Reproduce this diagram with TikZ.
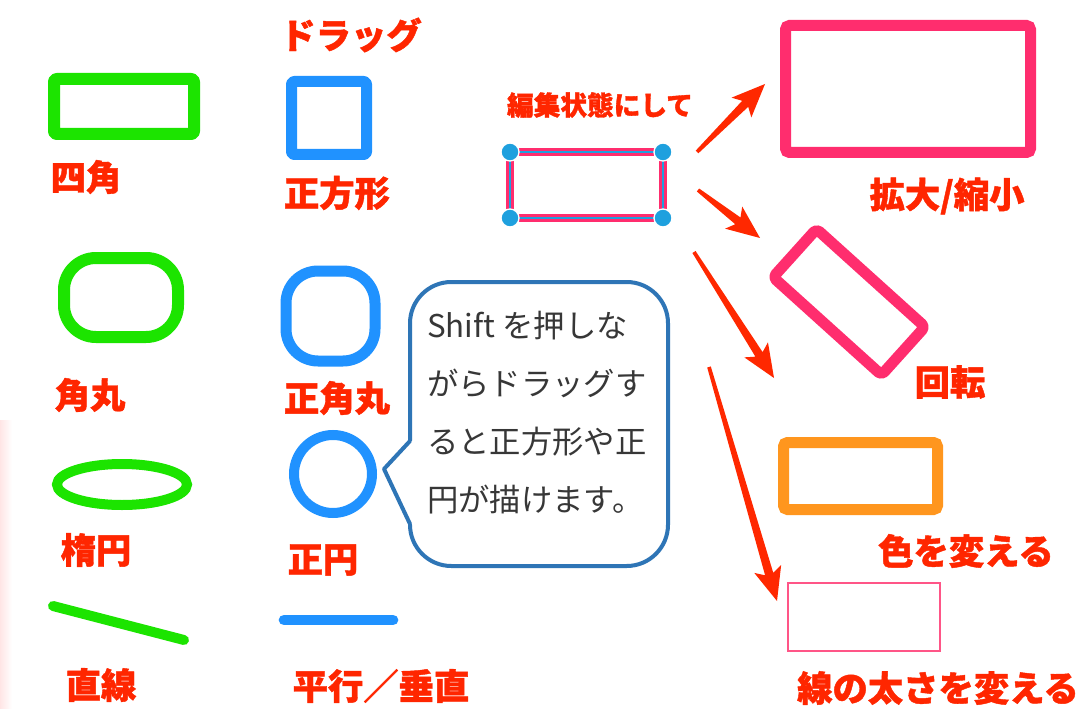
\documentclass[tikz,border=0pt]{standalone}
\usepackage{fontspec}
\newfontfamily\jp{Noto Sans CJK JP}
\newfontfamily\jph{Noto Sans CJK JP}[BoldFeatures={FakeBold=1.2}]
\usetikzlibrary{calc,shapes.geometric}
\definecolor{lblred}{RGB}{255,38,0}
\definecolor{arrred}{RGB}{255,40,0}
\definecolor{grn}{RGB}{28,228,0}
\definecolor{blu}{RGB}{32,146,255}
\definecolor{pnk}{RGB}{255,45,110}
\definecolor{thinpnk}{RGB}{255,85,135}
\definecolor{org}{RGB}{255,150,30}
\definecolor{calloutblue}{RGB}{46,117,182}
\definecolor{handle}{RGB}{30,160,222}
\definecolor{txtgray}{RGB}{55,55,55}
\tikzset{
  lbl/.style={font=\jph\bfseries\fontsize{26.5}{30}\selectfont, text=lblred, inner sep=0pt},
  smalllbl/.style={font=\jph\bfseries\fontsize{20}{24}\selectfont, text=lblred, inner sep=0pt},
  greenshape/.style={draw=grn, line width=9pt, line join=round},
  blueshape/.style={draw=blu, line width=8.25pt, line join=round},
  calloutbox/.style={draw=calloutblue, fill=white, line width=3pt, rounded corners=31pt,
     minimum width=193.5pt, minimum height=213pt, inner sep=0pt},
  callouttext/.style={font=\jp\fontsize{23.5}{43.5}\selectfont, text=txtgray, align=left, inner sep=0pt},
  handledot/.style={circle, fill=handle, draw=white, line width=1pt, minimum size=13.5pt, inner sep=0pt}
}
\newcommand{\redarrow}[2]{%
  \coordinate (h) at ($(#2)!21pt!(#1)$);
  \coordinate (b) at ($(#2)!25pt!(#1)$);
  \fill[arrred] ($(#1)!1.4pt!90:(#2)$) -- ($(h)!3.2pt!90:(#2)$) -- ($(b)!10.5pt!90:(#2)$) -- (#2)
     -- ($(b)!10.5pt!-90:(#2)$) -- ($(h)!3.2pt!-90:(#2)$) -- ($(#1)!1.4pt!-90:(#2)$) -- cycle;
}
\begin{document}
\begin{tikzpicture}[x=0.75pt,y=-0.75pt]
\useasboundingbox (0,0) rectangle (1084,709);
\fill[white] (0,0) rectangle (1084,709);
\shade[left color=red!10, right color=white] (0,420) rectangle (12,709);

% green column
\draw[greenshape, rounded corners=2pt] (54,79) rectangle (194,134);
\node[lbl] (l1) at (86,177) {四角};
\draw[greenshape, rounded corners=24pt] (64,258) rectangle (178,337);
\node[lbl] (l2) at (90,395) {角丸};
\draw[draw=grn, line width=7.5pt] (122,484.5) ellipse [x radius=65, y radius=20.5];
\node[lbl] (l3) at (96,550) {楕円};
\draw[draw=grn, line width=7.5pt, line cap=round] (53,606) -- (184,640);
\node[lbl] (l4) at (101,685) {直線};

% blue column
\node[lbl] (l5) at (351,35) {ドラッグ};
\draw[blueshape, rounded corners=2pt] (291.5,81.5) rectangle (366.5,154.5);
\node[lbl] (l6) at (337,193) {正方形};
\draw[blueshape, rounded corners=24pt] (286,271) rectangle (375,361);
\node[lbl] (l7) at (337,398) {正角丸};
\draw[draw=blu, line width=7.5pt] (333,474) circle [radius=39];
\node[lbl] (l8) at (323,560) {正円};
\draw[draw=blu, line width=8pt, line cap=round] (284,620) -- (393,620);
\node[lbl] (l9) at (381,686) {平行／垂直};

% callout
\node[calloutbox] (callout) at (539,424) {};
\fill[white] (413,440) -- (384,469) -- (413,526) -- cycle;
\draw[calloutblue, line width=3pt, line join=round] (410,441) -- (384,469) -- (410,524);
\node[callouttext, anchor=west] (ctext) at (427,413) {Shift を押しな\\がらドラッグす\\ると正方形や正\\円が描けます。};

% edit state rectangle
\node[smalllbl] (edit) at (600,105) {編集状態にして};
\coordinate (e1) at (510,152);
\coordinate (e2) at (663,152);
\coordinate (e3) at (663,218);
\coordinate (e4) at (510,218);
\draw[pnk, line width=6.5pt] (e1) -- (e2) -- (e3) -- (e4) -- cycle;
\draw[handle, line width=2pt] (e1) -- (e2) -- (e3) -- (e4) -- cycle;
\node[handledot] (h1) at (e1) {};
\node[handledot] (h2) at (e2) {};
\node[handledot] (h3) at (e3) {};
\node[handledot] (h4) at (e4) {};

% right column shapes
\draw[draw=pnk, line width=8.25pt, rounded corners=3pt] (785.5,25.5) rectangle (1030.5,152.5);
\node[lbl] (r1) at (947,196) {拡大/縮小};
\draw[draw=pnk, line width=8.25pt, line join=round, rounded corners=3pt]
  (816.5,229) -- (924.9,326.8) -- (881.5,375) -- (773.1,277.2) -- cycle;
\node[lbl] (r2) at (950,382) {回転};
\draw[draw=org, line width=8.25pt, rounded corners=3pt] (783.5,442.5) rectangle (937.5,509.5);
\node[lbl] (r3) at (966,551) {色を変える};
\draw[draw=thinpnk, line width=1.1pt] (788,583) rectangle (940,651);
\node[lbl] (r4) at (938,688) {線の太さを変える};

% arrows
\coordinate (a1s) at (697,152); \coordinate (a1e) at (765,84);
\coordinate (a2s) at (698,190); \coordinate (a2e) at (760,238);
\coordinate (a3s) at (694,252); \coordinate (a3e) at (774,378);
\coordinate (a4s) at (709,367); \coordinate (a4e) at (777,601);
\redarrow{a1s}{a1e}
\redarrow{a2s}{a2e}
\redarrow{a3s}{a3e}
\redarrow{a4s}{a4e}
\end{tikzpicture}
\end{document}
